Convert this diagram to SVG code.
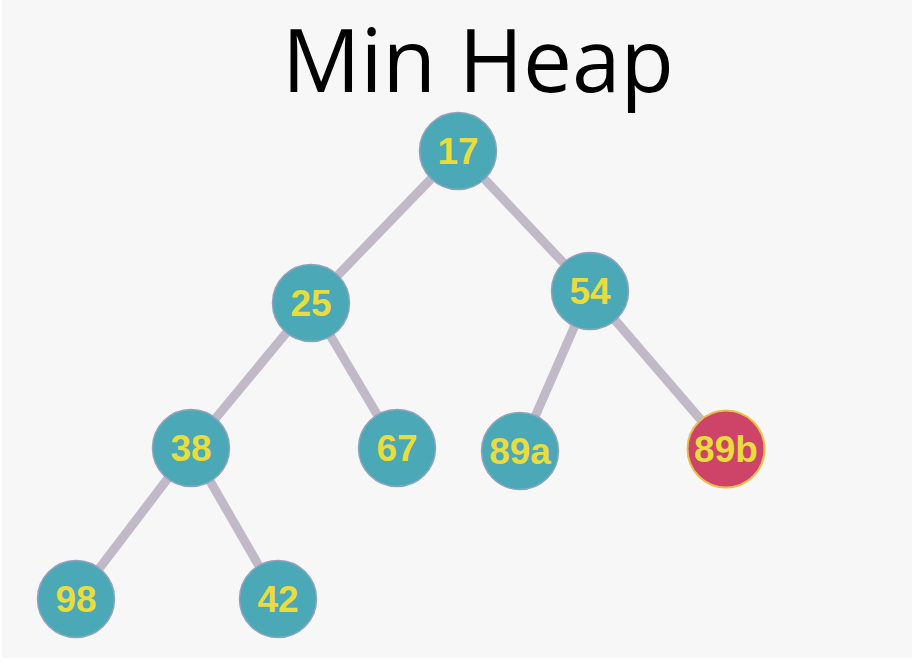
<svg xmlns="http://www.w3.org/2000/svg" width="920" height="664" viewBox="0 0 920 664">
<style>
.edge{stroke:#c1b9c7;stroke-width:9;stroke-linecap:butt}
.node circle{fill:#4ba8b7;stroke:#8fa3bf;stroke-width:1.5}
.node.red circle{fill:#cd4468;stroke:#e6c04a;stroke-width:2}
.node text{font-family:"Liberation Sans",Arial,sans-serif;font-weight:bold;font-size:37px;fill:#e8dd3c;text-anchor:middle}
.title{font-family:"Open Sans","Noto Sans",sans-serif;font-size:88px;fill:#000}
</style>
<rect width="920" height="664" fill="#ffffff"/>
<rect x="2" y="0" width="910" height="658" fill="#f7f7f8"/>
<text class="title" x="478" y="92" text-anchor="middle" textLength="392" lengthAdjust="spacingAndGlyphs">Min Heap</text>
<g id="connectors">
<line class="edge" x1="458" y1="151" x2="311" y2="303"/>
<line class="edge" x1="458" y1="151" x2="590" y2="291"/>
<line class="edge" x1="311" y1="303" x2="191" y2="448"/>
<line class="edge" x1="311" y1="303" x2="397" y2="448"/>
<line class="edge" x1="590" y1="291" x2="520" y2="451"/>
<line class="edge" x1="590" y1="291" x2="726" y2="449"/>
<line class="edge" x1="191" y1="448" x2="76" y2="599"/>
<line class="edge" x1="191" y1="448" x2="278" y2="599"/>
</g>
<g id="n17" class="node"><circle cx="458" cy="151" r="38.5"/><text x="458" y="164">17</text></g>
<g id="n25" class="node"><circle cx="311" cy="303" r="38.5"/><text x="311" y="316">25</text></g>
<g id="n54" class="node"><circle cx="590" cy="291" r="38.5"/><text x="590" y="304">54</text></g>
<g id="n38" class="node"><circle cx="191" cy="448" r="38.5"/><text x="191" y="461">38</text></g>
<g id="n67" class="node"><circle cx="397" cy="448" r="38.5"/><text x="397" y="461">67</text></g>
<g id="n89a" class="node"><circle cx="520" cy="451" r="38.5"/><text x="520" y="464">89a</text></g>
<g id="n89b" class="node red"><circle cx="726" cy="449" r="38.5"/><text x="726" y="462">89b</text></g>
<g id="n98" class="node"><circle cx="76" cy="599" r="38.5"/><text x="76" y="612">98</text></g>
<g id="n42" class="node"><circle cx="278" cy="599" r="38.5"/><text x="278" y="612">42</text></g>
</svg>
